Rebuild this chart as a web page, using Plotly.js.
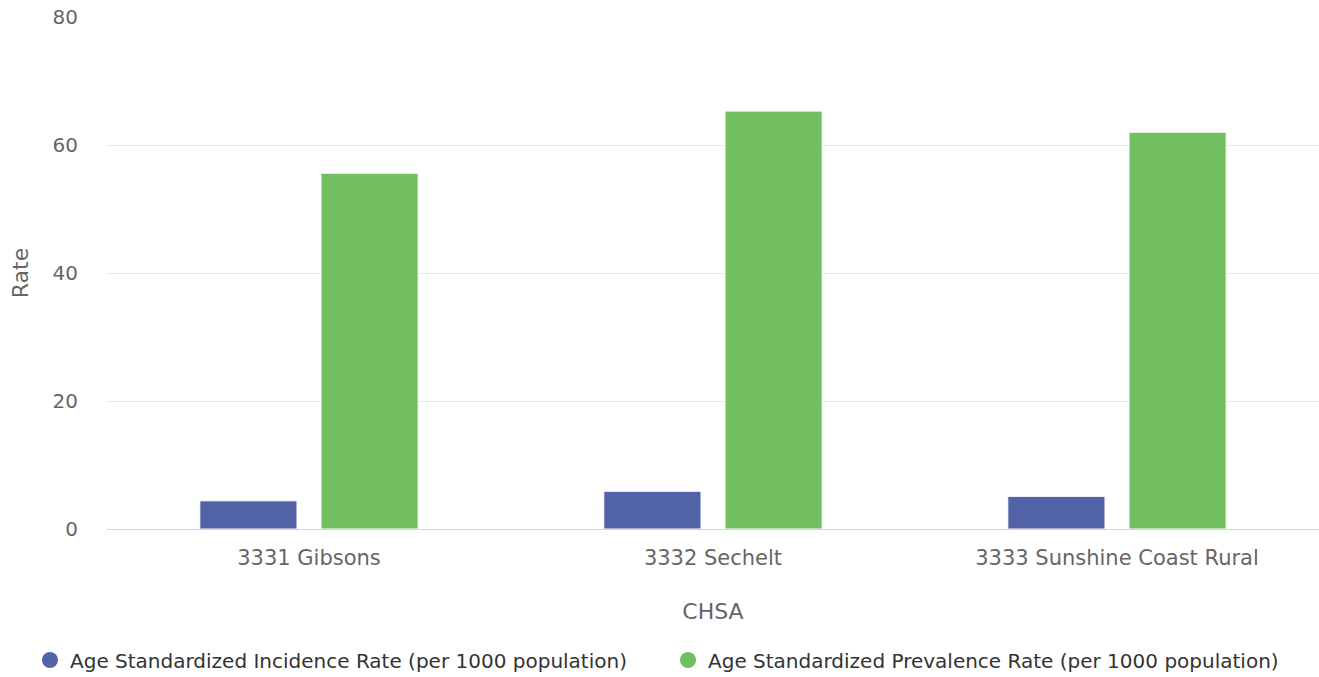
<!DOCTYPE html>
<html>
<head>
<meta charset="utf-8">
<script src="https://cdn.plot.ly/plotly-3.0.1.min.js"></script>
<style>html,body{margin:0;padding:0;background:#fff;}#chart{width:1319px;height:677px;}</style>
</head>
<body>
<div id="chart"></div>
<script>
const categories = ["3331 Gibsons", "3332 Sechelt", "3333 Sunshine Coast Rural"];
const incidence = [4.4, 5.9, 5.1];
const prevalence = [55.6, 65.3, 62.0];
const seriesNames = ["Age Standardized Incidence Rate (per 1000 population)", "Age Standardized Prevalence Rate (per 1000 population)"];
const seriesColors = ["#5363a8", "#72bf62"];
const yTicks = [0, 20, 40, 60, 80];

const font = "DejaVu Sans, Verdana, sans-serif";
const seriesValues = [incidence, prevalence];
const legendIds = ["legend", "legend2"];
const traces = [];
seriesValues.forEach((vals, i) => {
  traces.push({type: "bar", name: seriesNames[i], x: categories, y: vals, showlegend: false,
    legendgroup: "g" + i, hoverinfo: "x+y+name",
    marker: {color: seriesColors[i], line: {color: "#ffffff", width: 1}}});
});
seriesValues.forEach((vals, i) => {
  traces.push({type: "scatter", mode: "markers", name: seriesNames[i], x: [null], y: [null],
    legendgroup: "g" + i, showlegend: true, legend: legendIds[i],
    marker: {symbol: "circle", size: 17, color: seriesColors[i]}});
});

function legendAt(xpx) {
  return {orientation: "h", xref: "container", yref: "container",
          x: xpx / 1319, xanchor: "left", y: 17 / 677, yanchor: "middle",
          font: {size: 20, color: "#333333", family: font},
          itemsizing: "trace", bgcolor: "rgba(0,0,0,0)"};
}

const layout = {
  width: 1319, height: 677,
  margin: {l: 107, r: 0, t: 17, b: 148},
  paper_bgcolor: "#fff", plot_bgcolor: "#fff",
  barmode: "group", bargap: 0.40, bargroupgap: 0.198,
  font: {family: font, color: "#666666"},
  showlegend: true,
  legend: legendAt(30),
  legend2: legendAt(668),
  xaxis: {type: "category", showgrid: false, showline: true, linecolor: "#ccd6eb", linewidth: 1,
          ticks: "", tickfont: {size: 21, color: "#666666"}, automargin: false,
          ticklabelstandoff: 10, range: [-0.5, 2.5],
          title: {text: "CHSA", font: {size: 22, color: "#666666"}, standoff: 34}},
  yaxis: {range: [0, 80], tickvals: yTicks, showgrid: true, gridcolor: "#e6e6e6", gridwidth: 1,
          zeroline: false, showline: false, ticks: "", ticklabelstandoff: 28, automargin: false,
          tickfont: {size: 20, color: "#666666"},
          title: {text: "Rate", font: {size: 22, color: "#666666"}, standoff: 17}}
};
Plotly.newPlot("chart", traces, layout, {displayModeBar: false});
</script>
</body>
</html>
